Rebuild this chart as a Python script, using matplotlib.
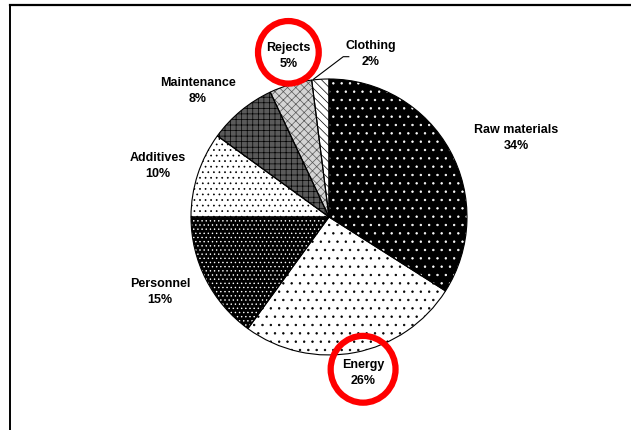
import matplotlib
matplotlib.use('Agg')
import matplotlib.pyplot as plt
from matplotlib.lines import Line2D
from matplotlib.patches import Ellipse
import numpy as np

# data: shares of cost, drawn clockwise from 12 o'clock
categories = ['Raw materials', 'Energy', 'Personnel', 'Additives', 'Maintenance', 'Rejects', 'Clothing']
shares = [34, 26, 15, 10, 8, 5, 2]
highlighted = ['Energy', 'Rejects']

# fill styles per wedge: face, hatch colour, hatch
faces = ['black', 'white', 'black', 'white', '#5a5a5a', '#d4d4d4', 'white']
hatch_colors = ['white', 'black', 'white', 'black', 'black', '#555555', 'black']
hatches = ['..', '..', '....', '...', '+++', 'xxxx', '\\\\\\\\']

# label placement: (distance in radii, angle offset from wedge middle in degrees)
label_pos = [(1.47, -6), (1.16, 1.5), (1.34, -3), (1.29, 1.5), (1.32, 6.5), (1.2, -2), (1.22, -18)]

plt.rcParams['font.family'] = ['Liberation Sans', 'DejaVu Sans']
plt.rcParams['hatch.linewidth'] = 0.5

W, H, dpi = 631, 430, 100
fig = plt.figure(figsize=(W / dpi, H / dpi), dpi=dpi)
ax = fig.add_axes([0, 0, 1, 1])

wedges, _ = ax.pie(shares, startangle=90, counterclock=False, radius=1.0,
                   wedgeprops=dict(linewidth=0))
for w, fc, hc, h in zip(wedges, faces, hatch_colors, hatches):
    w.set_facecolor(fc)
    w.set_edgecolor(hc)
    w.set_hatch(h)

# outlines on top
outl, _ = ax.pie(shares, startangle=90, counterclock=False, radius=1.0,
                 wedgeprops=dict(facecolor='none', edgecolor='black', linewidth=0.8))

# pie centre at (329, 217) px, radius 138 px
cx, cy, R = 329, 217, 138
ax.set_aspect('auto')
ax.set_xlim(-cx / R, (W - cx) / R)
ax.set_ylim(-(H - cy) / R, cy / R)
ax.axis('off')

for w, name, val, (dist, off) in zip(wedges, categories, shares, label_pos):
    mid = np.deg2rad((w.theta1 + w.theta2) / 2 + off)
    x, y = dist * np.cos(mid), dist * np.sin(mid)
    ax.text(x, y, f'{name}\n{val}%', ha='center', va='center', fontsize=9,
            fontweight='bold', linespacing=1.45)
    if name == 'Clothing':
        edge = np.deg2rad((w.theta1 + w.theta2) / 2)
        ex, ey = np.cos(edge), np.sin(edge)
        ax.plot([ex - 0.05, x - 0.2, x - 0.16], [ey, y - 0.02, y - 0.02],
                color='black', lw=0.8)
    if name in highlighted:
        r = 0.235 if name == 'Energy' else 0.22
        ax.add_patch(Ellipse((x, y + 0.03), 2 * r, 2 * r * 1.03, facecolor='none',
                             edgecolor='#ff0000', lw=4.5))

# frame: top and left border of the page
fig.add_artist(Line2D([10 / W, 1], [1 - 5 / H, 1 - 5 / H], color='black', lw=1.6))
fig.add_artist(Line2D([10 / W, 10 / W], [0, 1 - 5 / H], color='black', lw=1.4))

fig.savefig('out.png', dpi=dpi)
